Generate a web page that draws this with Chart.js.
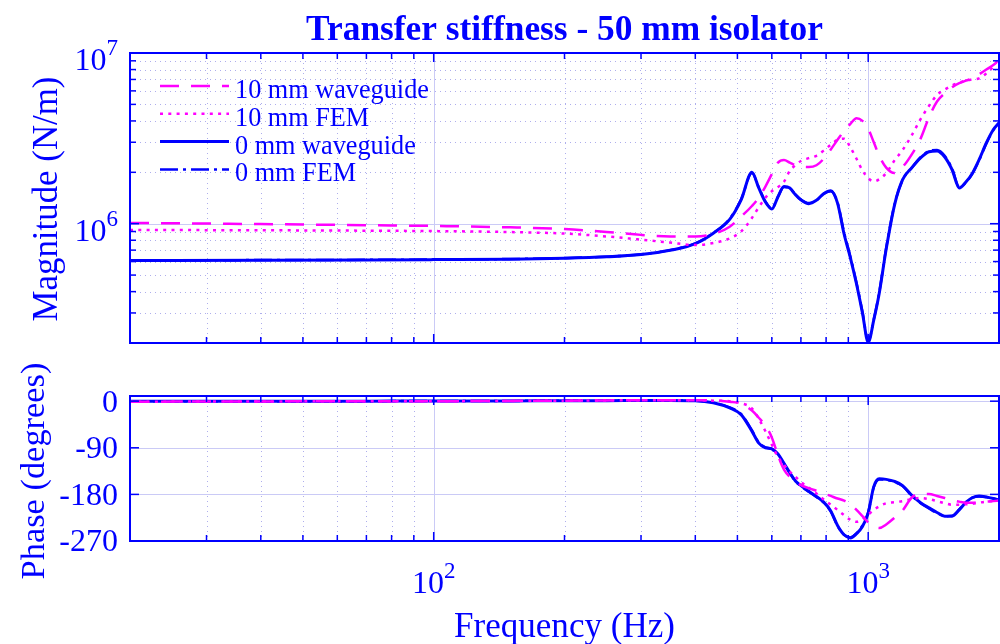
<!DOCTYPE html>
<html lang="en">
<head>
<meta charset="UTF-8">
<title>Transfer stiffness - 50 mm isolator</title>
<script src="https://cdn.jsdelivr.net/npm/chart.js"></script>
<style>
  body { margin: 0; background: #fff; }
  #wrap { position: relative; width: 1000px; height: 644px; }
  canvas { position: absolute; left: 0; }
  #magChart { top: 0; }
  #phaseChart { top: 360px; }
</style>
</head>
<body>
<div id="wrap">
  <canvas id="magChart" width="1000" height="360"></canvas>
  <canvas id="phaseChart" width="1000" height="284"></canvas>
</div>
<script>
// frequency points (Hz), shared by every series
const freq = [20, 40, 70, 100, 150, 200, 250, 300, 350, 400,
  440, 480, 510, 540, 560, 580, 600, 620, 640, 660,
  680, 700, 730, 760, 790, 820, 850, 880, 910, 940,
  970, 1000, 1030, 1060, 1100, 1150, 1200, 1260, 1320, 1380,
  1440, 1500, 1560, 1620, 1680, 1740, 1800, 1870, 1940, 2000];

// magnitude (N/m)
const mag10wg = [1.01e6, 0.995e6, 0.98e6, 0.97e6, 0.952e6, 0.93e6, 0.895e6, 0.86e6, 0.842e6, 0.84e6,
  0.87e6, 0.96e6, 1.1e6, 1.27e6, 1.42e6, 1.65e6, 1.95e6, 2.28e6, 2.36e6, 2.28e6,
  2.2e6, 2.16e6, 2.15e6, 2.2e6, 2.4e6, 2.72e6, 3.1e6, 3.5e6, 3.85e6, 4.15e6,
  4.0e6, 3.6e6, 3.0e6, 2.5e6, 2.13e6, 1.98e6, 2.15e6, 2.55e6, 3.15e6, 4.2e6,
  5.2e6, 5.8e6, 6.3e6, 6.65e6, 6.9e6, 7.1e6, 7.5e6, 8.0e6, 8.5e6, 9.0e6];
const mag10fem = [0.919e6, 0.915e6, 0.91e6, 0.905e6, 0.893e6, 0.875e6, 0.842e6, 0.806e6, 0.775e6, 0.75e6,
  0.77e6, 0.82e6, 0.9e6, 1.08e6, 1.25e6, 1.42e6, 1.55e6, 1.64e6, 1.76e6, 2.04e6,
  2.2e6, 2.33e6, 2.42e6, 2.5e6, 2.68e6, 2.9e6, 3.1e6, 3.15e6, 2.8e6, 2.4e6,
  2.05e6, 1.85e6, 1.77e6, 1.82e6, 1.98e6, 2.35e6, 2.7e6, 3.3e6, 4.1e6, 4.9e6,
  5.68e6, 6.1e6, 6.45e6, 6.7e6, 6.9e6, 7.0e6, 7.1e6, 7.6e6, 8.3e6, 9.3e6];
const mag0wg = [6.08e5, 6.1e5, 6.13e5, 6.16e5, 6.2e5, 6.28e5, 6.4e5, 6.6e5, 6.98e5, 7.64e5,
  8.8e5, 1.06e6, 1.38e6, 2.0e6, 1.62e6, 1.34e6, 1.22e6, 1.44e6, 1.65e6, 1.62e6,
  1.48e6, 1.38e6, 1.31e6, 1.37e6, 1.5e6, 1.56e6, 1.32e6, 8.7e5, 6.3e5, 4.43e5,
  3.0e5, 2.02e5, 2.73e5, 3.9e5, 7.1e5, 1.29e6, 1.81e6, 2.13e6, 2.43e6, 2.64e6,
  2.67e6, 2.46e6, 2.07e6, 1.62e6, 1.76e6, 1.99e6, 2.37e6, 2.97e6, 3.55e6, 3.9e6];
const mag0fem = [6.1e5, 6.12e5, 6.14e5, 6.17e5, 6.21e5, 6.29e5, 6.41e5, 6.62e5, 7.0e5, 7.66e5,
  8.82e5, 1.07e6, 1.39e6, 1.98e6, 1.63e6, 1.35e6, 1.23e6, 1.44e6, 1.64e6, 1.61e6,
  1.48e6, 1.38e6, 1.32e6, 1.37e6, 1.5e6, 1.55e6, 1.33e6, 8.9e5, 6.4e5, 4.5e5,
  3.05e5, 2.05e5, 2.75e5, 3.95e5, 7.2e5, 1.3e6, 1.8e6, 2.12e6, 2.45e6, 2.66e6,
  2.7e6, 2.5e6, 2.1e6, 1.64e6, 1.75e6, 1.98e6, 2.35e6, 2.95e6, 3.52e6, 3.88e6];

// phase (degrees)
const ph10wg = [-1, -0.5, 0, 0, 0.5, 1, 1.5, 2, 2, 2,
  1.5, -1, -5, -18, -32, -47, -70, -105, -132, -146,
  -155, -162, -168, -173, -178, -183, -188, -192, -199, -210,
  -222, -234, -242, -245, -238, -225, -211, -186, -179, -179,
  -183, -187, -191, -194, -196, -196, -195, -194, -193, -192];
const ph10fem = [-1, -0.5, 0, 0, 0.5, 1, 1.5, 2, 2, 2,
  1, 0, -4, -14, -34, -58, -84, -108, -123, -136,
  -146, -156, -167, -178, -190, -200, -210, -220, -229, -233,
  -228, -219, -210, -203, -197, -195, -193, -189, -187, -189,
  -193, -197, -200, -200, -199, -198, -196, -194, -193, -192];
const ph0wg = [0, 0, 0, 0.5, 0.5, 1, 1, 1.5, 1.5, 1,
  -3, -13, -26, -58, -81, -90, -92, -102, -120, -138,
  -154, -163, -174, -184, -195, -212, -240, -258, -264, -256,
  -242, -216, -165, -150, -151, -155, -163, -182, -196, -206,
  -215, -222, -222, -210, -195, -186, -183, -185, -188, -191];
const ph0fem = [0, 0, 0, 0.5, 0.5, 1, 1, 1.5, 1.5, 1,
  -3, -12, -25, -56, -80, -89, -92, -103, -121, -139,
  -155, -164, -175, -185, -196, -213, -241, -258, -263, -255,
  -240, -214, -166, -151, -152, -156, -164, -183, -197, -207,
  -216, -222, -221, -209, -195, -186, -184, -185, -188, -190];

// axes ticks
const freqMajor = [100, 1000];
const freqMinor = [20, 30, 40, 50, 60, 70, 80, 90, 200, 300, 400, 500, 600, 700, 800, 900, 2000];
const freqTickExp = ['2', '3'];
const magMajor = [1e6, 1e7];
const magMinor = [2e5, 3e5, 4e5, 5e5, 6e5, 7e5, 8e5, 9e5, 2e6, 3e6, 4e6, 5e6, 6e6, 7e6, 8e6, 9e6];
const magTickExp = ['6', '7'];
const phaseTicks = [0, -90, -180, -270];
const phaseTickLabels = ['0', '-90', '-180', '-270'];

const seriesLabels = ['10 mm waveguide', '10 mm FEM', '0 mm waveguide', '0 mm FEM'];

const BLUE = '#0000ff';
const MAGENTA = '#ff00ff';
const GRID_MAJOR = '#cacaf6';
const GRID_MINOR = '#aeaeec';
const SERIF = '"Liberation Serif", "Times New Roman", serif';
const TICK_PX = 32;
const SUP_PX = 23;

const styles = [
  { color: MAGENTA, dash: [19, 12], width: 2.5 },
  { color: MAGENTA, dash: [3, 5.3], width: 2.5 },
  { color: BLUE, dash: [], width: 3 },
  { color: BLUE, dash: [18, 5, 3, 5], width: 2.5 }
];

function makeSets(arrays) {
  return arrays.map((vals, i) => ({
    label: seriesLabels[i],
    data: freq.map((f, j) => ({ x: f, y: vals[j] })),
    borderColor: styles[i].color,
    borderWidth: styles[i].width,
    borderDash: styles[i].dash,
    borderCapStyle: 'butt',
    pointRadius: 0,
    fill: false,
    cubicInterpolationMode: 'monotone'
  }));
}

function fitSize(ctx, text, weight, width) {
  ctx.font = weight + ' 100px ' + SERIF;
  return 100 * width / ctx.measureText(text).width;
}

function line(ctx, x1, y1, x2, y2) {
  ctx.beginPath();
  ctx.moveTo(x1, y1);
  ctx.lineTo(x2, y2);
  ctx.stroke();
}

function powLabel(ctx, exp, x, baseline, align) {
  ctx.font = TICK_PX + 'px ' + SERIF;
  const wb = ctx.measureText('10').width;
  ctx.font = SUP_PX + 'px ' + SERIF;
  const we = ctx.measureText(exp).width;
  const left = align === 'right' ? x - wb - we : x - (wb + we) / 2;
  ctx.textAlign = 'left';
  ctx.textBaseline = 'alphabetic';
  ctx.font = TICK_PX + 'px ' + SERIF;
  ctx.fillText('10', left, baseline);
  ctx.font = SUP_PX + 'px ' + SERIF;
  ctx.fillText(exp, left + wb, baseline - 15);
}

const framePlugin = {
  id: 'frame',
  beforeDatasetsDraw(chart, args, o) {
    const { ctx, chartArea: a, scales: { x, y } } = chart;
    const inX = v => v > x.min && v < x.max;
    const inY = v => v > y.min && v < y.max;
    ctx.save();
    ctx.lineWidth = 1;
    ctx.strokeStyle = GRID_MINOR;
    ctx.setLineDash([1, 4]);
    freqMinor.filter(inX).forEach(v => {
      const p = Math.round(x.getPixelForValue(v)) + 0.5;
      line(ctx, p, a.top, p, a.bottom);
    });
    o.yMinor.filter(inY).forEach(v => {
      const p = Math.round(y.getPixelForValue(v)) + 0.5;
      line(ctx, a.left, p, a.right, p);
    });
    ctx.setLineDash([]);
    ctx.strokeStyle = GRID_MAJOR;
    freqMajor.filter(inX).forEach(v => {
      const p = Math.round(x.getPixelForValue(v)) + 0.5;
      line(ctx, p, a.top, p, a.bottom);
    });
    o.yMajor.filter(inY).forEach(v => {
      const p = Math.round(y.getPixelForValue(v)) + 0.5;
      line(ctx, a.left, p, a.right, p);
    });
    ctx.restore();
  },
  afterDatasetsDraw(chart, args, o) {
    const { ctx, chartArea: a, scales: { x, y } } = chart;
    ctx.save();
    ctx.strokeStyle = BLUE;
    ctx.lineWidth = 1.5;
    const xt = (v, len) => {
      const p = x.getPixelForValue(v);
      line(ctx, p, a.bottom, p, a.bottom - len);
      line(ctx, p, a.top, p, a.top + len);
    };
    const yt = (v, len) => {
      const p = y.getPixelForValue(v);
      line(ctx, a.left, p, a.left + len, p);
      line(ctx, a.right, p, a.right - len, p);
    };
    freqMinor.forEach(v => xt(v, 6));
    freqMajor.forEach(v => xt(v, 9));
    o.yMinor.forEach(v => yt(v, 6));
    o.yMajor.forEach(v => yt(v, 9));
    ctx.lineWidth = 2;
    ctx.strokeRect(a.left, a.top, a.right - a.left, a.bottom - a.top);
    ctx.restore();
  },
  afterDraw(chart, args, o) {
    const { ctx } = chart;
    ctx.save();
    ctx.fillStyle = BLUE;
    o.labels(chart);
    ctx.restore();
  }
};

function baseOptions(padding, yScale, frame) {
  return {
    responsive: false,
    animation: false,
    events: [],
    layout: { padding: padding },
    scales: {
      x: { type: 'logarithmic', min: 20, max: 2000, display: false },
      y: yScale
    },
    plugins: {
      legend: { display: false },
      tooltip: { enabled: false },
      frame: frame
    }
  };
}

new Chart(document.getElementById('magChart'), {
  type: 'line',
  data: { datasets: makeSets([mag10wg, mag10fem, mag0wg, mag0fem]) },
  plugins: [framePlugin],
  options: baseOptions(
    { left: 130, right: 1, top: 53, bottom: 17 },
    { type: 'logarithmic', min: 2e5, max: 1e7, display: false },
    {
      yMajor: magMajor,
      yMinor: magMinor,
      labels(chart) {
        const { ctx, chartArea: a, scales: { y } } = chart;
        magMajor.forEach((v, i) => powLabel(ctx, magTickExp[i], 118, y.getPixelForValue(v) + 17, 'right'));

        // title
        const ts = fitSize(ctx, 'Transfer stiffness - 50 mm isolator', 'bold', 517);
        ctx.font = 'bold ' + ts + 'px ' + SERIF;
        ctx.textAlign = 'center';
        ctx.textBaseline = 'alphabetic';
        ctx.fillText('Transfer stiffness - 50 mm isolator', (a.left + a.right) / 2, 40);

        // y axis title
        const ys = fitSize(ctx, 'Magnitude (N/m)', '', 245);
        ctx.save();
        ctx.translate(57, (a.top + a.bottom) / 2 + 1);
        ctx.rotate(-Math.PI / 2);
        ctx.font = ys + 'px ' + SERIF;
        ctx.fillText('Magnitude (N/m)', 0, 0);
        ctx.restore();

        // legend
        const ls = fitSize(ctx, seriesLabels[0], '', 194);
        chart.data.datasets.forEach((ds, i) => {
          const ly = 86 + i * 27.8;
          ctx.save();
          ctx.strokeStyle = ds.borderColor;
          ctx.lineWidth = ds.borderWidth;
          ctx.setLineDash(ds.borderDash);
          line(ctx, 160, ly, 229, ly);
          ctx.restore();
          ctx.font = ls + 'px ' + SERIF;
          ctx.textAlign = 'left';
          ctx.fillText(ds.label, 235, ly + 12);
        });
      }
    }
  )
});

new Chart(document.getElementById('phaseChart'), {
  type: 'line',
  data: { datasets: makeSets([ph10wg, ph10fem, ph0wg, ph0fem]) },
  plugins: [framePlugin],
  options: baseOptions(
    { left: 130, right: 1, top: 36, bottom: 103 },
    { type: 'linear', min: -270, max: 10, display: false },
    {
      yMajor: phaseTicks,
      yMinor: [],
      labels(chart) {
        const { ctx, chartArea: a, scales: { x, y } } = chart;
        ctx.font = TICK_PX + 'px ' + SERIF;
        ctx.textAlign = 'right';
        ctx.textBaseline = 'middle';
        phaseTicks.forEach((v, i) => ctx.fillText(phaseTickLabels[i], 118, y.getPixelForValue(v) + 2));
        freqMajor.forEach((v, i) => powLabel(ctx, freqTickExp[i], x.getPixelForValue(v), a.bottom + 52, 'center'));

        const xs = fitSize(ctx, 'Frequency (Hz)', '', 221);
        ctx.font = xs + 'px ' + SERIF;
        ctx.textAlign = 'center';
        ctx.textBaseline = 'alphabetic';
        ctx.fillText('Frequency (Hz)', (a.left + a.right) / 2, 277);

        const ps = fitSize(ctx, 'Phase (degrees)', '', 217);
        ctx.save();
        ctx.translate(44, 111);
        ctx.rotate(-Math.PI / 2);
        ctx.font = ps + 'px ' + SERIF;
        ctx.fillText('Phase (degrees)', 0, 0);
        ctx.restore();
      }
    }
  )
});
</script>
</body>
</html>
